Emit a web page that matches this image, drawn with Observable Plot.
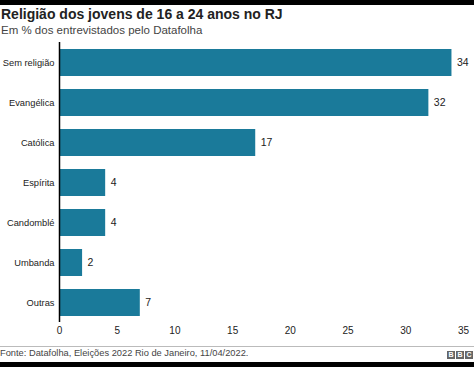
<!DOCTYPE html>
<html>
<head>
<meta charset="utf-8">
<script src="https://cdn.jsdelivr.net/npm/d3@7"></script>
<script src="https://cdn.jsdelivr.net/npm/@observablehq/plot@0.6"></script>
<style>
  html, body { margin: 0; padding: 0; background: #fff; }
  body { width: 474px; height: 367px; position: relative; overflow: hidden; font-family: "Liberation Sans", Arial, sans-serif; }
  .topbar { position: absolute; left: 0; top: 0; width: 474px; height: 5px; background: #000; }
  .bottombar { position: absolute; left: 0; top: 362px; width: 474px; height: 5px; background: #000; }
  .title { position: absolute; left: 1px; top: 6px; font-size: 14px; font-weight: bold; color: #222; white-space: nowrap; }
  .subtitle { position: absolute; left: 1px; top: 24px; font-size: 11.5px; color: #444; white-space: nowrap; }
  #chart { position: absolute; left: 0; top: 40px; }
  .rule { position: absolute; left: 0; top: 346px; width: 474px; height: 1px; background: #bbb; }
  .footer { position: absolute; left: 0; top: 348px; font-size: 9.3px; color: #444; white-space: nowrap; }
  .logo { position: absolute; right: 1px; top: 351px; display: flex; gap: 1px; }
  .logo span { display: block; width: 8px; height: 8px; background: #666; color: #fff; font-size: 7px; font-weight: bold; line-height: 8px; text-align: center; }
</style>
</head>
<body>
<div class="topbar"></div>
<div class="title">Religião dos jovens de 16 a 24 anos no RJ</div>
<div class="subtitle">Em % dos entrevistados pelo Datafolha</div>
<div id="chart"></div>
<div class="rule"></div>
<div class="footer">Fonte: Datafolha, Eleições 2022 Rio de Janeiro, 11/04/2022.</div>
<div class="logo"><span>B</span><span>B</span><span>C</span></div>
<div class="bottombar"></div>
<script>
const categories = ["Sem religião", "Evangélica", "Católica", "Espírita", "Candomblé", "Umbanda", "Outras"];
const values = [34, 32, 17, 4, 4, 2, 7];
const xTicks = [0, 5, 10, 15, 20, 25, 30, 35];

const data = categories.map((c, i) => ({category: c, value: values[i]}));

const chart = Plot.plot({
  width: 474,
  height: 302,
  marginTop: 2,
  marginBottom: 20,
  marginLeft: 59,
  marginRight: 11,
  style: {fontFamily: "Liberation Sans, Arial, sans-serif", fontSize: "10px", color: "#222", background: "transparent"},
  x: {domain: [0, 35], ticks: xTicks, label: null},
  y: {domain: categories, paddingInner: 0.325, paddingOuter: 0.1625, label: null},
  marks: [
    Plot.axisX({ticks: xTicks, tickSize: 0, tickPadding: 4, fontSize: 10, label: null}),
    Plot.axisY({tickSize: 0, tickPadding: 5, fontSize: 9.3, label: null}),
    Plot.barX(data, {x: "value", y: "category", fill: "#1a7a9a"}),
    Plot.text(data, {x: "value", y: "category", text: d => String(d.value), textAnchor: "start", dx: 5, fill: "#222", fontSize: 10.5}),
    Plot.ruleX([0], {stroke: "#000", strokeWidth: 1.5})
  ]
});
document.getElementById("chart").appendChild(chart);
</script>
</body>
</html>
